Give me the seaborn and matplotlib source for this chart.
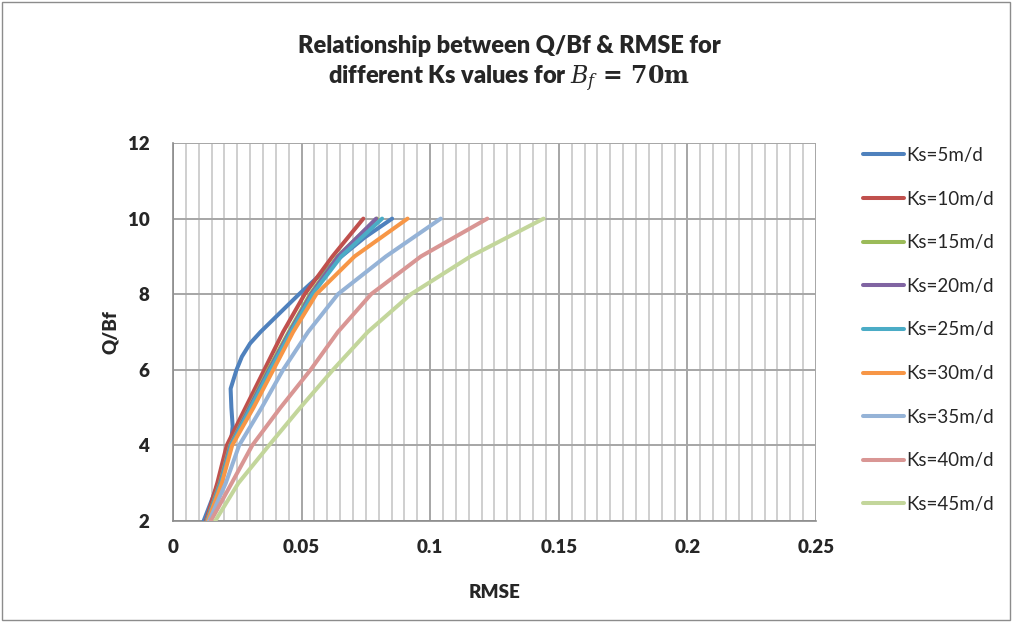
import matplotlib
matplotlib.use("Agg")
import matplotlib.pyplot as plt
from matplotlib.ticker import MultipleLocator
from matplotlib.patches import Rectangle
import seaborn as sns
import pandas as pd

# Q/Bf levels where RMSE was read for each soil permeability
q_levels = [2, 3, 4, 5, 6, 7, 8, 9, 10]
q_levels_ks5 = [2, 3, 4, 4.5, 5, 5.5, 6, 6.35, 6.7, 7, 7.5, 8, 8.5, 9, 9.5, 10]

rmse_ks5 = [0.0119, 0.0176, 0.0224, 0.0232, 0.0227, 0.0224, 0.0247, 0.0268,
            0.0300, 0.0340, 0.0415, 0.0490, 0.0570, 0.0655, 0.0745, 0.0852]
rmse_ks10 = [0.0128, 0.0172, 0.0209, 0.0282, 0.0355, 0.0428, 0.0512, 0.0620, 0.0740]
rmse_ks15 = [0.0131, 0.0182, 0.0222, 0.0296, 0.0370, 0.0450, 0.0533, 0.0640, 0.0793]
rmse_ks20 = [0.0132, 0.0184, 0.0224, 0.0298, 0.0374, 0.0454, 0.0537, 0.0642, 0.0790]
rmse_ks25 = [0.0133, 0.0186, 0.0226, 0.0302, 0.0378, 0.0458, 0.0542, 0.0654, 0.0813]
rmse_ks30 = [0.0135, 0.0190, 0.0230, 0.0313, 0.0390, 0.0467, 0.0557, 0.0706, 0.0912]
rmse_ks35 = [0.0140, 0.0205, 0.0257, 0.0345, 0.0428, 0.0525, 0.0641, 0.0828, 0.1041]
rmse_ks40 = [0.0147, 0.0228, 0.0308, 0.0418, 0.0535, 0.0641, 0.0770, 0.0964, 0.1222]
rmse_ks45 = [0.0164, 0.0254, 0.0373, 0.0495, 0.0622, 0.0757, 0.0925, 0.1157, 0.1441]

series_labels = ["Ks=5m/d", "Ks=10m/d", "Ks=15m/d", "Ks=20m/d", "Ks=25m/d",
                 "Ks=30m/d", "Ks=35m/d", "Ks=40m/d", "Ks=45m/d"]
series_colors = ["#4F81BD", "#C0504D", "#9BBB59", "#8064A2", "#4BACC6",
                 "#F79646", "#95B3D7", "#D99694", "#C3D69B"]

x_ticks = [0, 0.05, 0.1, 0.15, 0.2, 0.25]
x_tick_labels = ["0", "0.05", "0.1", "0.15", "0.2", "0.25"]
y_ticks = [2, 4, 6, 8, 10, 12]

# long-form table for seaborn
all_rmse = [rmse_ks5, rmse_ks10, rmse_ks15, rmse_ks20, rmse_ks25,
            rmse_ks30, rmse_ks35, rmse_ks40, rmse_ks45]
rows = []
for label, rmse in zip(series_labels, all_rmse):
    qs = q_levels_ks5 if label == "Ks=5m/d" else q_levels
    for q, r in zip(qs, rmse):
        rows.append({"Ks": label, "Q/Bf": q, "RMSE": r})
df = pd.DataFrame(rows)

sns.set_theme(style="white")
plt.rcParams["font.family"] = ["Lato", "DejaVu Sans"]
plt.rcParams["mathtext.fontset"] = "dejavuserif"

fig = plt.figure(figsize=(10.19, 6.25), dpi=100)
ax = fig.add_axes([173 / 1019, 1 - 521 / 625, (816 - 173) / 1019, (521 - 143) / 625])

sns.lineplot(data=df, x="RMSE", y="Q/Bf", hue="Ks", hue_order=series_labels,
             palette=series_colors, sort=False, estimator=None,
             linewidth=2.9, ax=ax, legend=True, zorder=3)
for ln in ax.lines:
    ln.set_solid_joinstyle("round")
    ln.set_solid_capstyle("round")

ax.set_xlim(0, 0.25)
ax.set_ylim(2, 12)
ax.set_xticks(x_ticks)
ax.set_xticklabels(x_tick_labels)
ax.set_yticks(y_ticks)
ax.xaxis.set_minor_locator(MultipleLocator(0.005))

ax.grid(which="minor", axis="x", color="#CFCFCF", linewidth=1.4, zorder=0)
ax.grid(which="major", axis="x", color="#A6A6A6", linewidth=1.4, zorder=0)
ax.grid(which="major", axis="y", color="#A6A6A6", linewidth=1.4, zorder=0)
ax.set_axisbelow(True)

for side in ["top", "right"]:
    ax.spines[side].set_visible(False)
for side in ["left", "bottom"]:
    ax.spines[side].set_color("#8C8C8C")
    ax.spines[side].set_linewidth(1.2)

ax.tick_params(axis="both", which="major", direction="out", length=5, width=1.2,
               color="#8C8C8C", labelsize=13.5)
ax.tick_params(axis="x", which="major", pad=8)
ax.tick_params(axis="y", which="major", pad=12)
ax.tick_params(axis="both", which="minor", length=0)
for lbl in ax.get_xticklabels() + ax.get_yticklabels():
    lbl.set_fontweight("heavy")

ax.set_xlabel("RMSE", fontsize=13.5, fontweight="heavy", labelpad=20)
ax.set_ylabel("Q/Bf", fontsize=13.5, fontweight="heavy", labelpad=6)

fig.text(0.5, 1 - 46 / 625, "Relationship between Q/Bf & RMSE for",
         ha="center", va="center", fontsize=17, fontweight="heavy")
fig.text(0.5, 1 - 79 / 625,
         r"different Ks values for $\boldsymbol{B_f}\,\mathbf{=\,70m}$",
         ha="center", va="center", fontsize=17, fontweight="heavy")

handles, labels = ax.get_legend_handles_labels()
ax.get_legend().remove()
leg = fig.legend(handles, labels, loc="center left",
                 bbox_to_anchor=(846 / 1019, 1 - 330 / 625),
                 frameon=False, fontsize=13.5, handlelength=2.2,
                 handletextpad=0.1, labelspacing=1.42)
for h in leg.get_lines():
    h.set_linewidth(2.9)

# chart area border
fig.patches.append(Rectangle((0.002, 0.008), 0.989, 0.989, transform=fig.transFigure,
                             fill=False, edgecolor="#8C8C8C", linewidth=1.0))

fig.savefig("out.png", dpi=100)
